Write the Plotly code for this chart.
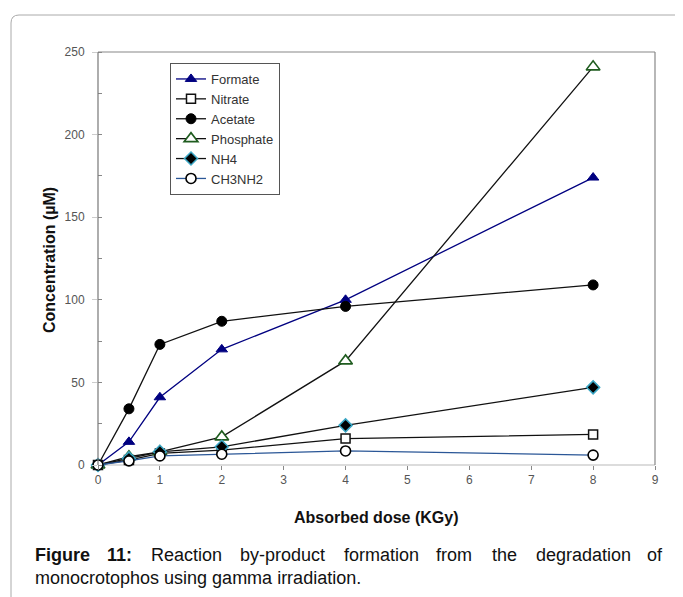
import plotly.graph_objects as go

# ---------------- data ----------------
dose = [0, 0.5, 1, 2, 4, 8]
formate = [0, 14, 41, 70, 100, 174]
nitrate = [0, 3, 7, 9, 16, 18.5]
acetate = [0, 34, 73, 87, 96, 109]
phosphate = [0, 5, 8, 17, 63, 241]
nh4 = [0, 4, 8, 11, 24, 47]
ch3nh2 = [0, 2.5, 5.5, 6.5, 8.5, 6]

x_ticks = list(range(0, 10))
y_ticks = [0, 50, 100, 150, 200, 250]

# page body has an 8px margin; compensate so the plot lands where the reference has it
O = 8
W, H = 683 - O, 597 - O
L, R, T, B = 98, 655, 52, 465  # plot area pixel box in screen coordinates


def px(xp):
    return (xp - L) / (R - L)


def py(yp):
    return (B - yp) / (B - T)


fig = go.Figure()

series = [
    ("Formate", formate, dict(color="#000080", width=1.3),
     dict(symbol="triangle-up", size=10, color="#000080", line=dict(color="#000080", width=1))),
    ("Nitrate", nitrate, dict(color="#111111", width=1.3),
     dict(symbol="square", size=9, color="white", line=dict(color="#111111", width=1.5))),
    ("Acetate", acetate, dict(color="#111111", width=1.3),
     dict(symbol="circle", size=10, color="black", line=dict(color="black", width=1))),
    ("Phosphate", phosphate, dict(color="#111111", width=1.3),
     dict(symbol="triangle-up", size=12, color="white", line=dict(color="#1f5c1f", width=1.6))),
    ("NH4", nh4, dict(color="#111111", width=1.3),
     dict(symbol="diamond", size=10, color="black", line=dict(color="#3aa6c4", width=1.5))),
    ("CH3NH2", ch3nh2, dict(color="#2b5797", width=1.3),
     dict(symbol="circle", size=10, color="white", line=dict(color="black", width=1.6))),
]

for name, ys, ln, mk in series:
    fig.add_trace(go.Scatter(x=dose, y=ys, name=name, mode="lines+markers",
                             line=ln, marker=mk, cliponaxis=False))

tickfont = dict(family="Liberation Sans, Arial, sans-serif", size=12, color="#555555")

fig.update_layout(
    width=W, height=H, autosize=False,
    margin=dict(l=L - O, r=W - (R - O), t=T - O, b=H - (B - O)),
    paper_bgcolor="white", plot_bgcolor="white",
    font=dict(family="Liberation Sans, Arial, sans-serif"),
    showlegend=True,
    legend=dict(x=px(170), y=py(63), xanchor="left", yanchor="top",
                bordercolor="#555555", borderwidth=1, bgcolor="white",
                font=dict(size=13, color="#333333"),
                entrywidth=88, entrywidthmode="pixels",
                tracegroupgap=0),
    xaxis=dict(range=[0, 9], tickvals=x_ticks, ticktext=[str(v) for v in x_ticks],
               showgrid=False, zeroline=False, showline=False,
               ticks="outside", ticklen=4, tickcolor="#888888", tickfont=tickfont),
    yaxis=dict(range=[0, 250], tickvals=y_ticks, ticktext=[str(v) for v in y_ticks],
               showgrid=False, zeroline=False, showline=False,
               ticks="outside", ticklen=5, tickcolor="#cccccc", tickfont=tickfont,
               ticklabelstandoff=5,
               minor=dict(dtick=25, ticks="inside", ticklen=4, tickcolor="#888888")),
)

# plot-area border (Excel style)
fig.add_shape(type="line", xref="paper", yref="paper", x0=0, x1=1, y0=1, y1=1,
              line=dict(color="#888888", width=1.2))
fig.add_shape(type="line", xref="paper", yref="paper", x0=1, x1=1, y0=0, y1=1,
              line=dict(color="#888888", width=1.2))
fig.add_shape(type="line", xref="paper", yref="paper", x0=0, x1=0, y0=0, y1=1,
              line=dict(color="#777777", width=1.2))
fig.add_shape(type="line", xref="paper", yref="paper", x0=0, x1=1, y0=0, y1=0,
              line=dict(color="#d0d0d0", width=1.5), layer="below")

# outer rounded frame
r = 8
x0, y0 = 11, 15
path = (f"M {px(x0)} {py(700)} L {px(x0)} {py(y0 + r)} "
        f"Q {px(x0)} {py(y0)} {px(x0 + r)} {py(y0)} L {px(720)} {py(y0)}")
fig.add_shape(type="path", xref="paper", yref="paper", path=path,
              line=dict(color="#aaaaaa", width=1))

# axis titles
fig.add_annotation(text="<b>Concentration (µM)</b>", xref="paper", yref="paper",
                   x=px(50), y=py(260), xanchor="center", yanchor="middle",
                   textangle=-90, showarrow=False,
                   font=dict(size=16, color="#111111"))
fig.add_annotation(text="<b>Absorbed dose (KGy)</b>", xref="paper", yref="paper",
                   x=px(376), y=py(517), xanchor="center", yanchor="middle",
                   showarrow=False, font=dict(size=16, color="#111111"))

# caption (justified first line)
cap_font = dict(family="Liberation Sans, Arial, sans-serif", size=18, color="#111111")
words = ["<b>Figure</b>", "<b>11:</b>", "Reaction", "by-product", "formation",
         "from", "the", "degradation", "of"]
word_x = [33, 104.6, 149.2, 237.8, 342.4, 434, 489.6, 534.2, 665]
for i, (w, xx) in enumerate(zip(words, word_x)):
    anchor = "right" if i == len(words) - 1 else "left"
    fig.add_annotation(text=w, xref="paper", yref="paper", x=px(xx), y=py(555),
                       xanchor=anchor, yanchor="middle", showarrow=False, font=cap_font)
fig.add_annotation(text="monocrotophos using gamma irradiation.", xref="paper", yref="paper",
                   x=px(33), y=py(578), xanchor="left", yanchor="middle",
                   showarrow=False, font=cap_font)

fig.write_html("out.html")
